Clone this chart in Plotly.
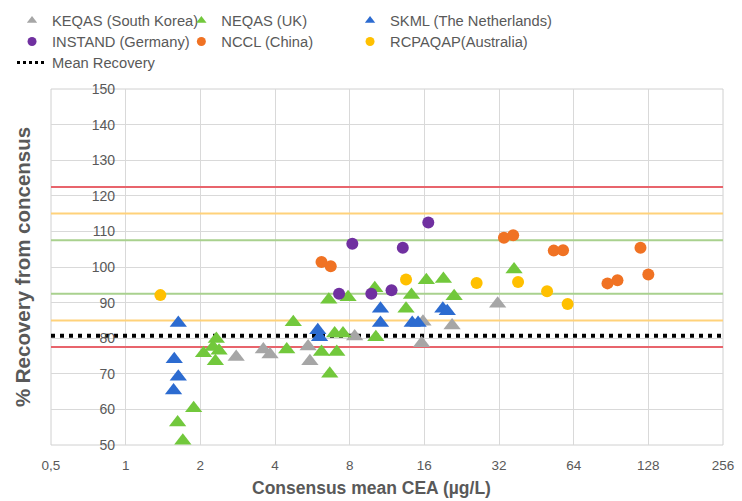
import plotly.graph_objects as go

# Consensus mean CEA (µg/L) and % recovery per EQA scheme
keqas_x = [2.79, 3.59, 3.82, 5.44, 5.53, 8.38, 15.8, 15.6, 20.7, 31.6]
keqas_y = [74.7, 76.8, 75.4, 77.7, 73.5, 80.5, 84.6, 78.6, 83.6, 89.7]

neqas_x = [1.62, 1.70, 1.88, 2.06, 2.25, 2.32, 2.30, 2.38, 4.46, 4.74, 6.16, 6.59, 6.65,
           6.96, 7.10, 7.52, 7.88, 10.1, 10.2, 13.5, 14.2, 16.3, 19.1, 21.1, 36.8]
neqas_y = [56.3, 51.2, 60.3, 75.8, 77.5, 79.8, 73.5, 76.5, 76.8, 84.5, 76.1, 90.8, 70.0,
           81.3, 76.1, 81.3, 91.5, 94.0, 80.3, 88.3, 92.1, 96.3, 96.6, 91.8, 99.3]

skml_x = [1.63, 1.57, 1.63, 1.56, 5.95, 6.05, 10.65, 10.65, 14.3, 15.1, 19.0, 19.8]
skml_y = [84.3, 74.1, 69.2, 65.3, 82.2, 80.3, 88.3, 84.3, 84.3, 84.3, 88.3, 87.6]

instand_x = [7.25, 8.2, 9.78, 11.8, 13.1, 16.6]
instand_y = [92.5, 106.5, 92.5, 93.5, 105.4, 112.5]

nccl_x = [6.16, 6.71, 33.5, 36.5, 53.2, 58.0, 87.6, 96.1, 119, 128]
nccl_y = [101.4, 100.2, 108.2, 108.9, 104.6, 104.7, 95.4, 96.3, 105.4, 97.9]

rcpa_x = [1.38, 13.5, 26.0, 38.2, 50.0, 60.5]
rcpa_y = [92.1, 96.5, 95.5, 95.8, 93.2, 89.6]

mean_recovery = 80.7
limits_red = [122.5, 77.5]
limits_yellow = [115.0, 85.0]
limits_green = [107.5, 92.5]

x_ticks = [0.5, 1, 2, 4, 8, 16, 32, 64, 128, 256]
x_ticktext = ["0,5", "1", "2", "4", "8", "16", "32", "64", "128", "256"]
x_span = [0.5, 256]

FONT = "Liberation Sans, Arial, sans-serif"
TXT = "#595959"

fig = go.Figure()

# acceptance limits
for vals, col in [(limits_red, "#e8646c"), (limits_yellow, "#ffd27a"), (limits_green, "#a9d18e")]:
    for v in vals:
        fig.add_trace(go.Scatter(x=x_span, y=[v, v], mode="lines",
                                 line=dict(color=col, width=2),
                                 showlegend=False, hoverinfo="skip"))

# mean recovery
fig.add_trace(go.Scatter(x=x_span, y=[mean_recovery, mean_recovery], mode="lines",
                         line=dict(color="black", width=4, dash="4px,5px"),
                         showlegend=False, hoverinfo="skip"))

# (name, x, y, symbol, colour, legend slot)
series = [
    ("KEQAS (South Korea)", keqas_x, keqas_y, "triangle-up", "#a6a6a6", "legend"),
    ("NEQAS (UK)", neqas_x, neqas_y, "triangle-up", "#72c83c", "legend2"),
    ("SKML (The Netherlands)", skml_x, skml_y, "triangle-up", "#2c6bd0", "legend3"),
    ("INSTAND (Germany)", instand_x, instand_y, "circle", "#7030a0", "legend4"),
    ("NCCL (China)", nccl_x, nccl_y, "circle", "#f07223", "legend5"),
    ("RCPAQAP(Australia)", rcpa_x, rcpa_y, "circle", "#ffc000", "legend6"),
]

for name, xs, ys, sym, col, _ in series:
    size = 15 if sym == "triangle-up" else 12
    fig.add_trace(go.Scatter(x=xs, y=ys, mode="markers", name=name,
                             marker=dict(symbol=sym, color=col, size=size),
                             showlegend=False))

# legend entries (smaller symbols than the plotted markers)
for name, xs, ys, sym, col, leg in series:
    fig.add_trace(go.Scatter(x=[None], y=[None], mode="markers", name=name,
                             marker=dict(symbol=sym, color=col, size=9),
                             legend=leg, showlegend=True))
fig.add_trace(go.Scatter(x=[None], y=[None], mode="lines", name="Mean Recovery",
                         line=dict(color="black", width=3, dash="3px,3px"),
                         legend="legend7", showlegend=True))

leg_common = dict(yanchor="top", xanchor="left", bgcolor="rgba(0,0,0,0)",
                  font=dict(family=FONT, size=14.7, color=TXT),
                  itemwidth=30, orientation="v")
col_x = [-0.058, 0.194, 0.445]
row_y = [1.2376, 1.1786, 1.1196]
legend_slots = {
    "legend": (col_x[0], row_y[0]), "legend2": (col_x[1], row_y[0]), "legend3": (col_x[2], row_y[0]),
    "legend4": (col_x[0], row_y[1]), "legend5": (col_x[1], row_y[1]), "legend6": (col_x[2], row_y[1]),
    "legend7": (col_x[0], row_y[2]),
}
legend_layout = {k: dict(x=v[0], y=v[1], **leg_common) for k, v in legend_slots.items()}

fig.update_layout(
    width=742, height=501,
    margin=dict(l=51, r=19, t=89, b=56, autoexpand=False),
    paper_bgcolor="white", plot_bgcolor="white",
    font=dict(family=FONT, color=TXT),
    xaxis=dict(type="log", range=[-0.30103, 2.40824], tickvals=x_ticks, ticktext=x_ticktext,
               showgrid=True, gridcolor="#d9d9d9", gridwidth=1, zeroline=False,
               showline=False, ticks="", tickfont=dict(size=13.5, color=TXT),
               ticklabelstandoff=10),
    yaxis=dict(range=[50, 150], dtick=10, anchor="free", position=0.1072,
               showgrid=True, gridcolor="#d9d9d9", gridwidth=1, zeroline=False,
               showline=False, ticks="", tickfont=dict(size=14, color=TXT),
               ticklabelstandoff=8),
    shapes=[dict(type="rect", xref="paper", yref="paper", x0=0, x1=1, y0=0, y1=1,
                 line=dict(color="#d0d0d0", width=1), layer="below")],
    annotations=[
        dict(text="<b>% Recovery from concensus</b>", xref="paper", yref="paper",
             x=-0.043, y=0.5, xanchor="center", yanchor="middle", textangle=-90,
             showarrow=False, font=dict(family=FONT, size=20.5, color=TXT)),
        dict(text="<b>Consensus mean CEA (µg/L)</b>", xref="paper", yref="paper",
             x=0.477, y=-0.122, xanchor="center", yanchor="middle",
             showarrow=False, font=dict(family=FONT, size=17.5, color=TXT)),
    ],
    **legend_layout,
)

fig.write_html("out.html")
